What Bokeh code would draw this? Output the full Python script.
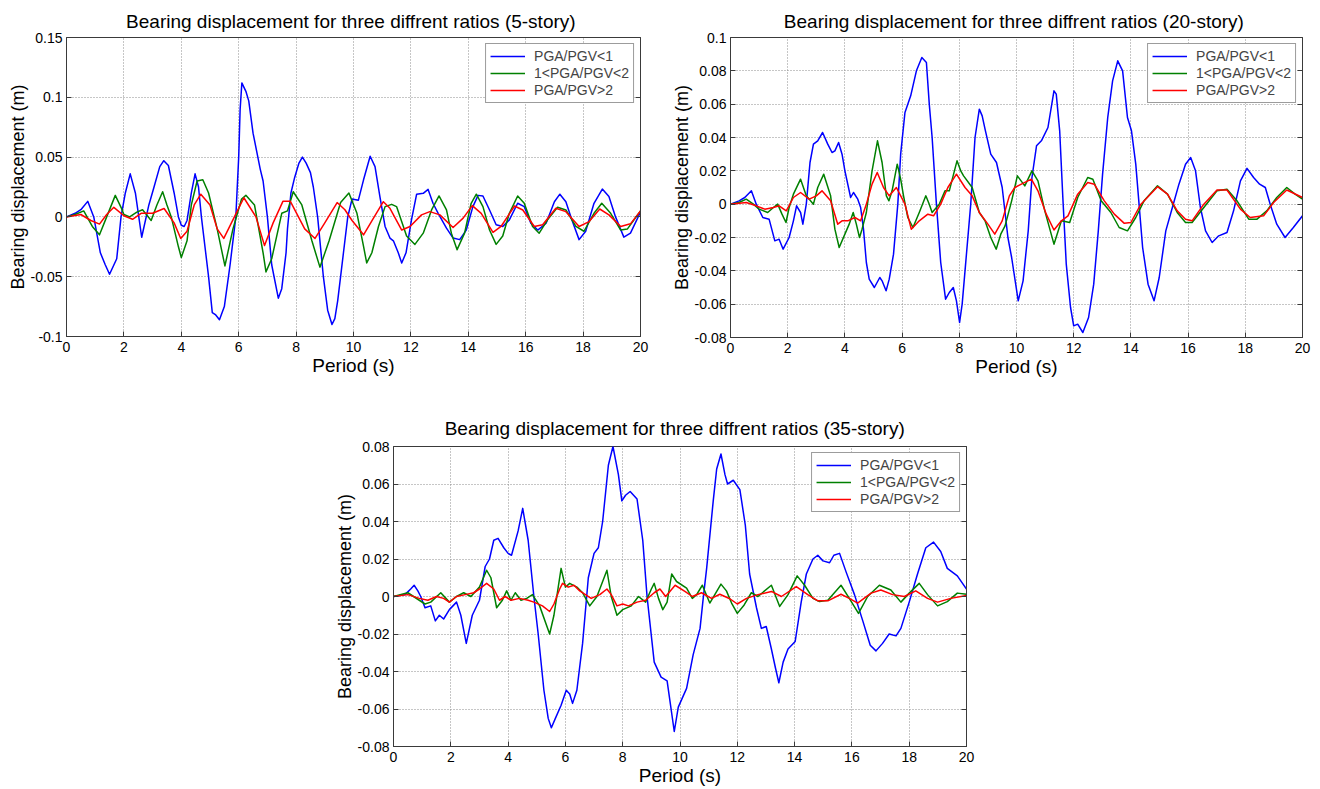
from bokeh.plotting import figure
from bokeh.layouts import column, row, Spacer
from bokeh.models import FixedTicker, Range1d, LinearAxis
from bokeh.embed import file_html
from bokeh.resources import INLINE

FONT = "Liberation Sans"

# ---------------- data: time (s) and bearing displacement (m) ----------------
# 5-story
t5_low = [0, 0.3, 0.5, 0.74, 0.95, 1.18, 1.35, 1.5, 1.75, 1.9, 2.05, 2.22, 2.4, 2.62, 2.87, 3.05, 3.25, 3.39,
          3.55, 3.75, 3.9, 4.0, 4.1, 4.2, 4.35, 4.48, 4.6, 4.7, 4.85, 4.95, 5.08, 5.2, 5.33, 5.5, 5.7, 5.9,
          6.0, 6.05, 6.11, 6.25, 6.35, 6.5, 6.75, 6.85, 7.0, 7.15, 7.38, 7.5, 7.65, 7.7, 7.82, 7.95, 8.1,
          8.22, 8.35, 8.5, 8.6, 8.75, 8.95, 9.1, 9.25, 9.35, 9.45, 9.65, 9.8, 9.95, 10.17, 10.35, 10.58,
          10.75, 10.92, 11.1, 11.27, 11.39, 11.56, 11.68, 11.83, 12.02, 12.2, 12.43, 12.6, 12.77, 12.95,
          13.24, 13.47, 13.7, 13.93, 14.16, 14.34, 14.51, 14.74, 14.97, 15.2, 15.43, 15.72, 15.95, 16.18,
          16.42, 16.71, 17.0, 17.19, 17.4, 17.61, 17.86, 18.09, 18.38, 18.67, 18.9, 19.13, 19.42, 19.65, 20.0]
d5_low = [0, 0.003, 0.006, 0.013, 0.0, -0.03, -0.04, -0.048, -0.035, 0.0, 0.02, 0.036, 0.02, -0.017, 0.01,
          0.025, 0.042, 0.047, 0.043, 0.02, 0.0, -0.007, -0.008, -0.003, 0.02, 0.036, 0.025, 0.0, -0.03,
          -0.05, -0.08, -0.082, -0.086, -0.075, -0.04, 0.0, 0.05, 0.09, 0.112, 0.105, 0.097, 0.07, 0.04,
          0.03, 0.0, -0.04, -0.068, -0.06, -0.03, -0.01, 0.02, 0.033, 0.045, 0.05, 0.045, 0.037, 0.025, 0.0,
          -0.05, -0.078, -0.09, -0.085, -0.07, -0.03, 0.0, 0.015, 0.014, 0.031, 0.0507, 0.042, 0.017,
          -0.008, -0.0177, -0.02, -0.03, -0.0385, -0.03, -0.0025, 0.019, 0.0197, 0.023, 0.0114, 0.003,
          -0.0094, -0.0177, -0.019, -0.011, 0.0086, 0.018, 0.0175, 0.0058, -0.0066, -0.008, -0.0025, 0.0114,
          0.0086, -0.0053, -0.011, -0.0053, 0.0127, 0.019, 0.0127, -0.0025, -0.019, -0.012, 0.0114, 0.0233,
          0.017, 0.0, -0.0169, -0.0136, 0.004]

t5_mid = [0, 0.3, 0.6, 0.9, 1.15, 1.4, 1.7, 1.9, 2.0, 2.2, 2.45, 2.65, 2.95, 3.15, 3.35, 3.5, 3.65, 3.9, 4.0,
          4.2, 4.35, 4.55, 4.75, 4.95, 5.25, 5.52, 5.8, 6.1, 6.25, 6.55, 6.85, 6.95, 7.15, 7.5, 7.7, 7.9,
          8.2, 8.55, 8.83, 9.15, 9.55, 9.84, 10.12, 10.35, 10.46, 10.64, 10.87, 11.1, 11.33, 11.5, 11.85,
          12.14, 12.43, 12.72, 12.98, 13.24, 13.41, 13.61, 13.87, 14.1, 14.28, 14.51, 14.74, 14.97, 15.2,
          15.43, 15.72, 15.95, 16.24, 16.47, 16.76, 17.11, 17.4, 17.75, 18.03, 18.38, 18.65, 18.96, 19.31,
          19.54, 20.0]
d5_mid = [0, 0.002, 0.005, -0.008, -0.015, 0.0, 0.018, 0.008, 0.002, 0.0, 0.004, 0.006, -0.003, 0.01, 0.021,
          0.01, 0.0, -0.025, -0.034, -0.02, 0.01, 0.03, 0.031, 0.02, -0.01, -0.041, -0.01, 0.015, 0.018,
          0.01, -0.03, -0.046, -0.035, 0.003, 0.005, 0.021, 0.01, -0.02, -0.042, -0.02, 0.012, 0.02, 0.003,
          -0.0247, -0.0385, -0.03, -0.008, 0.0086, 0.0105, 0.0086, -0.016, -0.023, -0.0136, 0.0058, 0.0175,
          0.0058, -0.0136, -0.0274, -0.0136, 0.0114, 0.019, 0.0086, -0.011, -0.023, -0.016, 0.003, 0.0175,
          0.0114, -0.008, -0.0136, -0.0025, 0.008, 0.0058, -0.008, -0.012, 0.003, 0.0114, 0.003, -0.011,
          -0.0102, 0.005]

t5_high = [0, 0.5, 0.85, 1.15, 1.4, 1.65, 2.0, 2.3, 2.6, 3.0, 3.4, 3.75, 3.98, 4.2, 4.45, 4.68, 5.0, 5.25,
           5.48, 5.85, 6.18, 6.6, 6.9, 7.2, 7.54, 7.8, 8.3, 8.66, 9.0, 9.43, 9.7, 9.95, 10.35, 10.65, 11.04,
           11.27, 11.68, 11.97, 12.37, 12.66, 13.01, 13.47, 13.82, 14.14, 14.45, 14.86, 15.14, 15.61, 15.9,
           16.3, 16.59, 17.05, 17.4, 17.86, 18.21, 18.58, 18.9, 19.31, 19.65, 20.0]
d5_high = [0, 0.002, -0.003, -0.006, 0.002, 0.008, 0.001, -0.002, 0.003, 0.003, 0.007, -0.005, -0.018,
           -0.012, 0.01, 0.019, 0.01, -0.01, -0.018, 0.0, 0.016, 0.0, -0.024, -0.005, 0.013, 0.013, -0.01,
           -0.018, -0.005, 0.012, 0.006, -0.003, -0.015, -0.003, 0.0127, 0.0072, -0.011, -0.008, 0.0017,
           0.0044, 0.0017, -0.0089, -0.001, 0.0094, 0.003, -0.013, -0.008, 0.0091, 0.0058, -0.008, -0.0066,
           0.0072, 0.0044, -0.008, -0.0039, 0.0066, 0.0017, -0.008, -0.0058, 0.005]

# 20-story
t20_low = [0, 0.3, 0.5, 0.73, 0.9, 1.13, 1.35, 1.55, 1.7, 1.84, 2.05, 2.2, 2.31, 2.45, 2.53, 2.65, 2.78, 2.9,
           3.05, 3.22, 3.4, 3.55, 3.65, 3.78, 3.9, 4.0, 4.2, 4.3, 4.45, 4.55, 4.65, 4.75, 4.85, 5.03, 5.22,
           5.3, 5.44, 5.55, 5.7, 5.85, 5.95, 6.1, 6.3, 6.5, 6.69, 6.85, 6.95, 7.05, 7.2, 7.35, 7.52, 7.65,
           7.79, 7.9, 8.01, 8.1, 8.2, 8.4, 8.55, 8.7, 8.8, 8.9, 9.1, 9.3, 9.5, 9.7, 9.83, 10.06, 10.23, 10.41,
           10.54, 10.7, 10.87, 11.1, 11.31, 11.39, 11.51, 11.62, 11.74, 11.89, 12.0, 12.14, 12.32, 12.52,
           12.7, 12.86, 13.01, 13.19, 13.36, 13.54, 13.71, 13.88, 14.02, 14.17, 14.41, 14.6, 14.81, 14.99,
           15.22, 15.45, 15.68, 15.91, 16.09, 16.26, 16.43, 16.61, 16.84, 17.07, 17.36, 17.59, 17.83, 18.06,
           18.29, 18.5, 18.7, 18.87, 19.1, 19.39, 19.68, 20.0]
d20_low = [0, 0.002, 0.004, 0.008, 0.0, -0.008, -0.009, -0.022, -0.021, -0.027, -0.02, -0.01, -0.001, -0.005,
           -0.012, 0.0, 0.025, 0.036, 0.038, 0.043, 0.036, 0.031, 0.032, 0.037, 0.03, 0.02, 0.004, 0.007,
           0.003, -0.002, -0.015, -0.035, -0.045, -0.05, -0.044, -0.046, -0.052, -0.045, -0.03, 0.0, 0.03,
           0.055, 0.065, 0.08, 0.088, 0.085, 0.06, 0.04, 0.0, -0.035, -0.057, -0.053, -0.05, -0.058, -0.071,
           -0.06, -0.04, 0.0, 0.04, 0.057, 0.053, 0.045, 0.03, 0.025, 0.01, -0.02, -0.032, -0.058, -0.046,
           -0.016, 0.016, 0.035, 0.038, 0.046, 0.068, 0.066, 0.044, 0.004, -0.036, -0.062, -0.073, -0.072,
           -0.077, -0.068, -0.048, -0.016, 0.018, 0.052, 0.074, 0.086, 0.08, 0.052, 0.044, 0.024, -0.026,
           -0.048, -0.058, -0.044, -0.016, -0.002, 0.012, 0.024, 0.028, 0.02, -0.002, -0.016, -0.023, -0.019,
           -0.017, -0.004, 0.014, 0.0215, 0.016, 0.012, 0.01, 0.0, -0.012, -0.02, -0.014, -0.007]

t20_mid = [0, 0.3, 0.55, 0.8, 1.0, 1.3, 1.5, 1.65, 1.8, 1.94, 2.05, 2.2, 2.45, 2.65, 2.9, 3.05, 3.26, 3.5,
           3.65, 3.8, 4.0, 4.15, 4.29, 4.4, 4.51, 4.6, 4.75, 4.95, 5.14, 5.3, 5.45, 5.54, 5.65, 5.83, 5.95,
           6.05, 6.2, 6.38, 6.6, 6.83, 6.95, 7.05, 7.3, 7.5, 7.65, 7.8, 7.92, 8.05, 8.15, 8.45, 8.7, 8.9, 9.1,
           9.29, 9.45, 9.6, 9.83, 10.03, 10.29, 10.54, 10.75, 10.99, 11.31, 11.57, 11.86, 12.14, 12.49, 12.67,
           12.96, 13.3, 13.59, 13.88, 14.17, 14.46, 14.93, 15.28, 15.62, 15.91, 16.14, 16.55, 17.01, 17.36,
           17.71, 18.12, 18.41, 18.75, 19.1, 19.45, 19.74, 20.0]
d20_mid = [0, 0.001, 0.003, 0.0, -0.003, -0.005, -0.002, 0.0, -0.006, -0.011, -0.002, 0.006, 0.015, 0.005,
           0.0, 0.01, 0.018, 0.005, -0.015, -0.026, -0.018, -0.012, -0.005, -0.012, -0.02, -0.015, -0.005,
           0.02, 0.038, 0.025, 0.005, 0.002, 0.008, 0.024, 0.015, 0.005, -0.008, -0.014, -0.005, 0.005, 0.0,
           -0.005, 0.0, 0.008, 0.008, 0.018, 0.026, 0.02, 0.017, 0.01, -0.005, -0.01, -0.02, -0.027, -0.018,
           -0.013, 0.002, 0.017, 0.011, 0.02, 0.014, -0.004, -0.024, -0.01, -0.011, 0.004, 0.016, 0.015,
           0.002, -0.005, -0.014, -0.016, -0.008, 0.002, 0.011, 0.006, -0.005, -0.011, -0.011, -0.002, 0.008,
           0.009, 0.002, -0.009, -0.009, -0.004, 0.004, 0.01, 0.006, 0.003]

t20_high = [0, 0.55, 0.9, 1.2, 1.5, 1.7, 1.95, 2.2, 2.45, 2.75, 3.0, 3.2, 3.5, 3.75, 3.9, 4.1, 4.35, 4.55,
            4.75, 4.95, 5.13, 5.35, 5.55, 5.8, 6.1, 6.32, 6.6, 6.9, 7.1, 7.35, 7.6, 7.9, 8.2, 8.45, 8.7, 9.0,
            9.24, 9.5, 9.75, 9.94, 10.17, 10.52, 10.75, 11.04, 11.31, 11.57, 11.8, 12.14, 12.49, 12.72, 13.07,
            13.42, 13.77, 14.0, 14.35, 14.93, 15.28, 15.62, 15.91, 16.14, 16.55, 17.01, 17.36, 17.83, 18.17,
            18.64, 18.99, 19.45, 20.0]
d20_high = [0, 0.001, -0.001, -0.003, -0.002, -0.001, -0.004, 0.004, 0.007, 0.003, 0.005, 0.008, 0.002,
            -0.012, -0.01, -0.01, -0.008, -0.01, 0.0, 0.012, 0.019, 0.01, 0.005, 0.01, 0.0, -0.015, -0.01,
            -0.006, -0.007, 0.0, 0.01, 0.018, 0.01, 0.005, -0.005, -0.012, -0.018, -0.01, 0.005, 0.01, 0.012,
            0.015, 0.008, -0.006, -0.0155, -0.01, -0.007, 0.006, 0.013, 0.012, 0.002, -0.006, -0.0115, -0.011,
            0.0, 0.0105, 0.006, -0.004, -0.009, -0.01, 0.0, 0.0085, 0.0085, -0.003, -0.008, -0.007, 0.001,
            0.0085, 0.004]

# 35-story
t35_low = [0, 0.4, 0.6, 0.72, 0.85, 0.95, 1.1, 1.3, 1.46, 1.6, 1.75, 1.95, 2.2, 2.35, 2.54, 2.75, 3.0, 3.2,
           3.35, 3.5, 3.65, 3.85, 4.0, 4.12, 4.35, 4.51, 4.7, 4.9, 5.05, 5.25, 5.4, 5.51, 5.65, 5.85, 6.03,
           6.15, 6.25, 6.4, 6.6, 6.8, 7.0, 7.15, 7.3, 7.5, 7.66, 7.85, 7.97, 8.1, 8.26, 8.5, 8.7, 8.85, 9.1,
           9.34, 9.55, 9.8, 9.94, 10.23, 10.46, 10.7, 10.81, 10.93, 11.16, 11.28, 11.43, 11.57, 11.66, 11.86,
           12.09, 12.28, 12.43, 12.67, 12.84, 13.01, 13.19, 13.33, 13.45, 13.6, 13.77, 14.02, 14.23, 14.41,
           14.64, 14.81, 14.99, 15.22, 15.37, 15.57, 15.8, 16.09, 16.38, 16.64, 16.84, 17.07, 17.3, 17.54,
           17.71, 18.0, 18.29, 18.58, 18.85, 19.1, 19.33, 19.68, 20.0]
d35_low = [0, 0.001, 0.004, 0.006, 0.003, 0.0, -0.006, -0.005, -0.013, -0.01, -0.012, -0.007, -0.003, -0.01,
           -0.025, -0.01, -0.002, 0.016, 0.02, 0.03, 0.031, 0.026, 0.023, 0.022, 0.035, 0.047, 0.03, 0.0,
           -0.02, -0.05, -0.065, -0.07, -0.065, -0.058, -0.05, -0.052, -0.057, -0.05, -0.025, 0.01, 0.023,
           0.026, 0.04, 0.07, 0.08, 0.065, 0.051, 0.054, 0.056, 0.052, 0.03, 0.0, -0.035, -0.043, -0.045,
           -0.072, -0.059, -0.049, -0.031, -0.017, -0.001, 0.015, 0.051, 0.068, 0.076, 0.065, 0.06, 0.062,
           0.057, 0.038, 0.012, -0.006, -0.017, -0.016, -0.028, -0.038, -0.046, -0.035, -0.028, -0.024,
           -0.003, 0.012, 0.02, 0.022, 0.019, 0.018, 0.022, 0.023, 0.013, 0.001, -0.013, -0.026, -0.029,
           -0.025, -0.02, -0.021, -0.017, -0.003, 0.012, 0.026, 0.029, 0.024, 0.015, 0.011, 0.004]

t35_mid = [0, 0.5, 1.1, 1.3, 1.65, 1.95, 2.2, 2.45, 2.7, 3.0, 3.25, 3.4, 3.6, 3.8, 3.95, 4.1, 4.25, 4.45, 4.65,
           4.85, 5.1, 5.45, 5.6, 5.75, 5.85, 6.0, 6.15, 6.4, 6.6, 6.85, 7.1, 7.3, 7.45, 7.6, 7.8, 8.0, 8.3,
           8.55, 8.8, 9.0, 9.1, 9.25, 9.4, 9.55, 9.71, 9.88, 10.23, 10.43, 10.58, 10.78, 11.04, 11.43, 11.62,
           11.8, 12.0, 12.24, 12.49, 12.72, 13.19, 13.48, 13.77, 14.09, 14.35, 14.64, 14.87, 15.16, 15.62,
           15.91, 16.23, 16.55, 16.96, 17.36, 17.71, 18.0, 18.35, 18.64, 18.99, 19.33, 19.68, 20.0]
d35_mid = [0, 0.002, -0.004, -0.003, 0.002, -0.003, 0.0, 0.002, 0.0, 0.005, 0.014, 0.01, -0.006, -0.002,
           0.003, -0.002, 0.002, -0.002, -0.001, 0.001, -0.005, -0.02, -0.01, 0.005, 0.015, 0.005, 0.007,
           0.005, 0.002, -0.005, 0.0, 0.008, 0.014, 0.0, -0.01, -0.007, -0.005, 0.0, -0.003, 0.004, 0.007,
           -0.001, -0.007, -0.003, 0.012, 0.008, 0.0045, -0.001, 0.001, 0.006, -0.0035, 0.0066, 0.003, -0.0035,
           -0.009, -0.0045, 0.002, 0.0, 0.006, -0.0053, 0.001, 0.011, 0.006, -0.001, -0.0027, -0.002, 0.006,
           -0.001, -0.009, 0.0, 0.006, 0.0035, -0.003, 0.0018, 0.007, 0.001, -0.005, -0.0027, 0.0018, 0.0012]

t35_high = [0, 0.5, 0.9, 1.2, 1.5, 1.75, 1.95, 2.2, 2.5, 2.8, 3.0, 3.25, 3.5, 3.7, 3.9, 4.1, 4.4, 4.7, 4.9,
            5.2, 5.45, 5.6, 5.8, 5.9, 6.1, 6.3, 6.5, 6.7, 6.9, 7.2, 7.45, 7.6, 7.8, 8.0, 8.2, 8.5, 8.8, 9.1,
            9.3, 9.5, 9.83, 10.17, 10.43, 10.75, 11.1, 11.39, 11.74, 12.0, 12.32, 12.72, 13.19, 13.54, 14.06,
            14.46, 14.81, 15.16, 15.62, 15.91, 16.2, 16.67, 17.01, 17.42, 17.83, 18.23, 18.64, 18.99, 19.45,
            20.0]
d35_high = [0, 0.001, -0.001, -0.002, 0.0, -0.001, -0.003, 0.0, 0.001, 0.002, 0.004, 0.007, 0.004, -0.002,
            0.0, -0.002, -0.001, -0.002, -0.003, -0.005, -0.008, -0.004, 0.004, 0.007, 0.005, 0.006, 0.003,
            0.001, -0.001, 0.001, 0.004, 0.001, -0.005, -0.004, -0.005, -0.003, -0.002, 0.002, 0.004, 0.0,
            0.006, 0.0027, 0.0, 0.002, -0.001, 0.0012, -0.0012, -0.004, -0.001, 0.001, 0.0027, 0.0, 0.0053,
            0.001, -0.0023, -0.0023, 0.0012, -0.001, -0.0035, 0.0018, 0.0035, 0.001, 0.0, 0.003, -0.001,
            -0.003, -0.001, 0.0005]

# ---------------- ticks and labels ----------------
x_ticks = [0, 2, 4, 6, 8, 10, 12, 14, 16, 18, 20]
y5_ticks = [-0.1, -0.05, 0, 0.05, 0.1, 0.15]
y5_labels = ["-0.1", "-0.05", "0", "0.05", "0.1", "0.15"]
y20_ticks = [-0.08, -0.06, -0.04, -0.02, 0, 0.02, 0.04, 0.06, 0.08, 0.1]
y20_labels = ["-0.08", "-0.06", "-0.04", "-0.02", "0", "0.02", "0.04", "0.06", "0.08", "0.1"]
y35_ticks = [-0.08, -0.06, -0.04, -0.02, 0, 0.02, 0.04, 0.06, 0.08]
y35_labels = ["-0.08", "-0.06", "-0.04", "-0.02", "0", "0.02", "0.04", "0.06", "0.08"]

series_names = ["PGA/PGV<1", "1<PGA/PGV<2", "PGA/PGV>2"]
series_colors = ["#0000ff", "#008000", "#ff0000"]


def make_panel(title, yticks, ylabels, series, frame_w, frame_h, borders, title_gap):
    left, right, top, bottom = borders
    p = figure(frame_width=frame_w, frame_height=frame_h,
               x_range=Range1d(0, 20), y_range=Range1d(yticks[0], yticks[-1]),
               output_backend="svg", toolbar_location=None,
               min_border_left=left, min_border_right=right,
               min_border_top=top, min_border_bottom=bottom)
    p.title.text = title
    p.title.align = "center"
    p.title.text_font = FONT
    p.title.text_font_size = "19px"
    p.title.text_font_style = "normal"
    p.title.text_color = "#000000"
    p.title.standoff = title_gap
    p.title.offset = 0

    p.background_fill_color = "#ffffff"
    p.border_fill_color = "#ffffff"
    p.outline_line_color = "#3a3a3a"
    p.outline_line_width = 1

    for ax in (p.xaxis[0], p.yaxis[0]):
        ax.major_label_text_font = FONT
        ax.major_label_text_font_size = "14px"
        ax.major_label_text_color = "#000000"
        ax.axis_label_text_font = FONT
        ax.axis_label_text_font_style = "normal"
        ax.axis_label_text_color = "#000000"
        ax.axis_line_color = "#3a3a3a"
        ax.major_tick_line_color = "#3a3a3a"
        ax.major_tick_in = 5
        ax.major_tick_out = 0
        ax.minor_tick_line_color = None
        ax.axis_label_standoff = 0

    p.xaxis[0].ticker = FixedTicker(ticks=x_ticks)
    p.xaxis[0].axis_label = "Period (s)"
    p.xaxis[0].axis_label_text_font_size = "19px"
    p.xaxis[0].major_label_standoff = 5
    p.yaxis[0].ticker = FixedTicker(ticks=yticks)
    p.yaxis[0].major_label_overrides = {t: s for t, s in zip(yticks, ylabels)}
    p.yaxis[0].axis_label = "Bearing displacement (m)"
    p.yaxis[0].axis_label_text_font_size = "18px"
    p.yaxis[0].major_label_standoff = 4

    # tick marks on the right edge, as on the left
    rax = LinearAxis(ticker=FixedTicker(ticks=yticks), major_label_text_font_size="0px",
                     major_label_standoff=0, major_tick_in=5, major_tick_out=0,
                     minor_tick_line_color=None, axis_line_color="#3a3a3a",
                     major_tick_line_color="#3a3a3a")
    p.add_layout(rax, "right")

    p.xgrid.ticker = FixedTicker(ticks=x_ticks)
    p.ygrid.ticker = FixedTicker(ticks=yticks)
    for g in (p.xgrid[0], p.ygrid[0]):
        g.grid_line_color = "#8c8c8c"
        g.grid_line_dash = "1 2"
        g.grid_line_width = 1

    for (t, d), name, color in zip(series, series_names, series_colors):
        p.line(t, d, line_color=color, line_width=1.5, line_join="round", legend_label=name)

    lg = p.legend[0]
    lg.location = "top_right"
    lg.margin = 6
    lg.padding = 4
    lg.spacing = 1
    lg.glyph_width = 35
    lg.glyph_height = 16
    lg.label_standoff = 9
    lg.label_text_font = FONT
    lg.label_text_font_size = "14px"
    lg.label_height = 16
    lg.border_line_color = "#3a3a3a"
    lg.border_line_width = 1
    lg.background_fill_alpha = 1.0
    return p


p5 = make_panel("Bearing displacement for three diffrent ratios  (5-story)",
                y5_ticks, y5_labels,
                [(t5_low, d5_low), (t5_mid, d5_mid), (t5_high, d5_high)],
                574, 299, (66, 20, 34, 57), 12)
p20 = make_panel("Bearing displacement for three diffrent ratios  (20-story)",
                 y20_ticks, y20_labels,
                 [(t20_low, d20_low), (t20_mid, d20_mid), (t20_high, d20_high)],
                 572, 300, (70, 18, 37, 53), 12)
p35 = make_panel("Bearing displacement for three diffrent ratios   (35-story)",
                 y35_ticks, y35_labels,
                 [(t35_low, d35_low), (t35_mid, d35_mid), (t35_high, d35_high)],
                 573, 300, (73, 14, 55, 44), 15)

layout = column(row(p5, p20, spacing=0), row(Spacer(width=320, height=10), p35, spacing=0), spacing=0)

open("out.html", "w").write(file_html(layout, INLINE))
